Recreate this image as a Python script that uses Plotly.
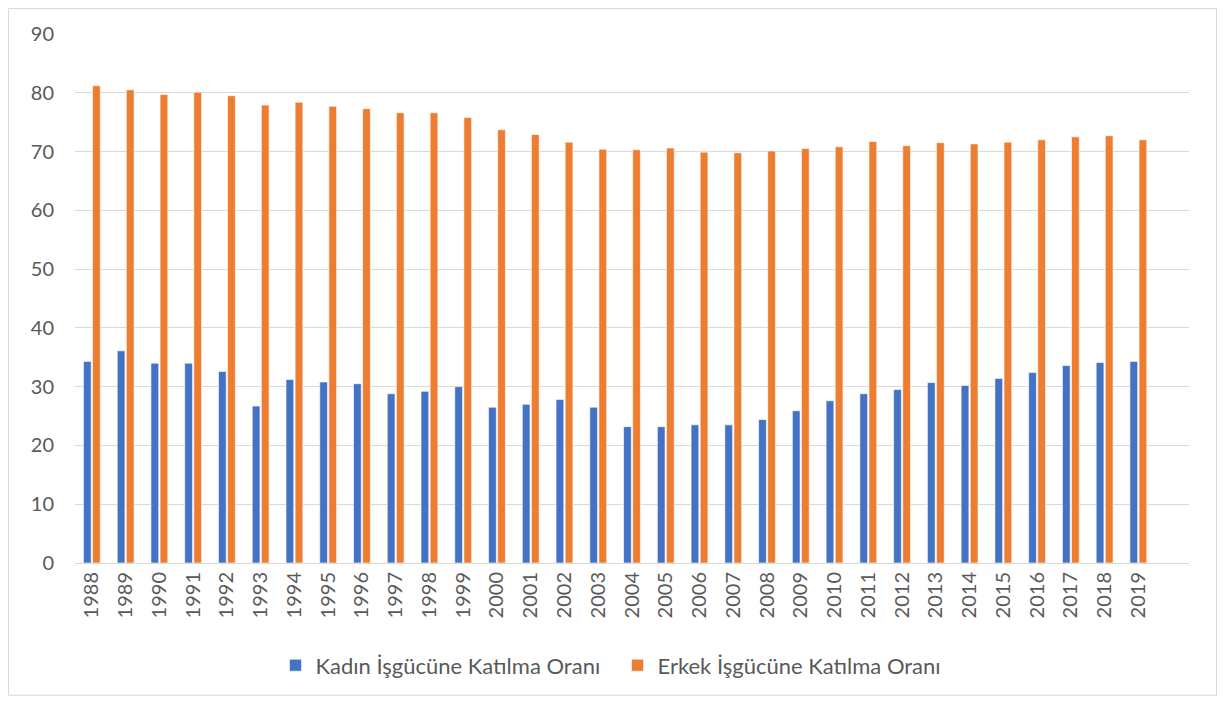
import plotly.graph_objects as go

# =============================================================================
# Data
# =============================================================================

years = [
    "1988", "1989", "1990", "1991", "1992", "1993", "1994", "1995",
    "1996", "1997", "1998", "1999", "2000", "2001", "2002", "2003",
    "2004", "2005", "2006", "2007", "2008", "2009", "2010", "2011",
    "2012", "2013", "2014", "2015", "2016", "2017", "2018", "2019",
]

kadin = [
    34.3, 36.1, 34.0, 34.0, 32.6, 26.7, 31.2, 30.8,
    30.5, 28.8, 29.2, 30.0, 26.5, 27.0, 27.8, 26.5,
    23.2, 23.2, 23.5, 23.5, 24.4, 25.9, 27.6, 28.8,
    29.5, 30.7, 30.2, 31.4, 32.4, 33.6, 34.1, 34.3,
]

erkek = [
    81.2, 80.5, 79.7, 80.1, 79.5, 77.9, 78.4, 77.7,
    77.3, 76.6, 76.6, 75.8, 73.7, 72.9, 71.6, 70.4,
    70.3, 70.6, 69.9, 69.8, 70.1, 70.5, 70.8, 71.7,
    71.0, 71.5, 71.3, 71.6, 72.0, 72.5, 72.7, 72.0,
]

BLUE = "#4472C4"
ORANGE = "#ED7D31"
GRID = "#D9D9D9"
TEXT = "#595959"
FONT = "Lato, Open Sans, sans-serif"

# =============================================================================
# Chart
# =============================================================================

fig = go.Figure()

fig.add_trace(
    go.Bar(
        x=years,
        y=kadin,
        name="Kadın İşgücüne Katılma Oranı",
        marker=dict(color=BLUE, line=dict(color="rgba(255,255,255,0.6)", width=1)),
    )
)

fig.add_trace(
    go.Bar(
        x=years,
        y=erkek,
        name="Erkek İşgücüne Katılma Oranı",
        marker=dict(color=ORANGE, line=dict(color="rgba(255,255,255,0.6)", width=1)),
    )
)

fig.update_xaxes(
    type="category",
    range=[-0.5, 32.5],
    tickangle=-90,
    showline=True,
    linecolor=GRID,
    linewidth=1,
    showgrid=False,
    ticks="",
    tickfont=dict(size=20, color=TEXT, family=FONT),
)

fig.update_yaxes(
    range=[0, 90],
    dtick=10,
    showgrid=True,
    gridcolor=GRID,
    gridwidth=1,
    zeroline=False,
    showline=False,
    ticks="",
    ticklabelstandoff=20,
    tickfont=dict(size=20, color=TEXT, family=FONT),
)

# outer chart border
fig.add_shape(
    type="rect",
    xref="paper",
    yref="paper",
    x0=-0.0597,
    x1=1.0247,
    y0=-0.2500,
    y1=1.0480,
    line=dict(color=GRID, width=1),
    fillcolor="rgba(0,0,0,0)",
)

fig.update_layout(
    width=1209,
    height=691,
    barmode="group",
    bargap=0.46,
    bargroupgap=0.15,
    plot_bgcolor="white",
    paper_bgcolor="white",
    font=dict(family=FONT, color=TEXT),
    margin=dict(l=67, r=28, t=26, b=133),
    legend=dict(
        orientation="h",
        x=0.487,
        xanchor="center",
        y=-0.1936,
        yanchor="middle",
        font=dict(size=22, color=TEXT, family=FONT),
        itemwidth=30,
        entrywidth=297,
        traceorder="normal",
    ),
)

fig.write_html("out.html")
